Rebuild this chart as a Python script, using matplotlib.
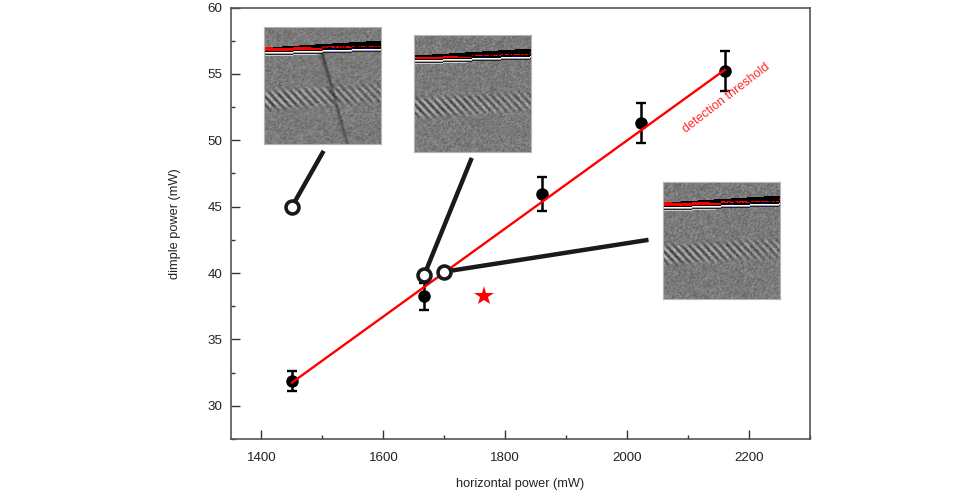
import numpy as np
import matplotlib
matplotlib.use('Agg')
import matplotlib.pyplot as plt
from matplotlib.ticker import MultipleLocator

plt.rcParams['font.family'] = ['Liberation Sans', 'DejaVu Sans']

horizontal = [1450, 1667, 1860, 2022, 2160]
dimple = [31.9, 38.25, 45.95, 51.3, 55.2]
errors = [0.75, 1.0, 1.25, 1.5, 1.5]
threshold_x = [1450, 2160]
threshold_y = [31.75, 55.3]
star_x = [1765]
star_y = [38.3]
open_x = [1450, 1667, 1700]
open_y = [45.0, 39.85, 40.1]
conn_end_x = [1502, 1745, 2035]
conn_end_y = [49.2, 48.67, 42.5]
inset_boxes_px = [(264, 27), (414, 35), (663, 182)]
INSET = 117

W, H = 976, 491
fig = plt.figure(figsize=(W / 100, H / 100), dpi=100, facecolor='white')
ax = fig.add_axes([231 / W, 1 - 439 / H, 579 / W, 431.5 / H])
ax.set_xlim(1350, 2300)
ax.set_ylim(27.5, 60)
ax.xaxis.set_major_locator(MultipleLocator(200))
ax.xaxis.set_minor_locator(MultipleLocator(100))
ax.yaxis.set_major_locator(MultipleLocator(5))
ax.yaxis.set_minor_locator(MultipleLocator(2.5))
ax.tick_params(which='major', direction='in', length=6.2, width=1.0, color='#333333',
               labelsize=9.6, labelcolor='#222222')
ax.tick_params(which='minor', direction='in', length=3.2, width=1.0, color='#333333')
ax.tick_params(axis='x', which='major', pad=9.3)
ax.tick_params(axis='y', which='major', pad=6)
for s in ax.spines.values():
    s.set_linewidth(1.2)
    s.set_color('#555555')
ax.set_xlabel('horizontal power (mW)', fontsize=9.2, color='#222222', labelpad=10)
ax.set_ylabel('dimple power (mW)', fontsize=9.2, color='#222222', labelpad=19)

ax.errorbar(horizontal, dimple, yerr=errors, fmt='o', color='black', ms=8,
            elinewidth=1.8, capsize=3.8, capthick=1.7, zorder=3)
ax.plot(threshold_x, threshold_y, color='#ff0000', lw=1.7, zorder=4)
for x0, y0, x1, y1 in zip(open_x, open_y, conn_end_x, conn_end_y):
    ax.plot([x0, x1], [y0, y1], color='#1a1a1a', lw=3.2, zorder=5, solid_capstyle='butt')
ax.plot(open_x, open_y, 'o', mfc='white', mec='#1a1a1a', mew=2.6, ms=9.3, zorder=6, ls='none')
ax.plot(star_x, star_y, '*', color='#ff0000', ms=15, mew=0, zorder=4, ls='none')
ax.text(2163, 53.2, 'detection threshold', color='#ff2a2a', fontsize=9,
        rotation=37.6, ha='center', va='center', rotation_mode='anchor')


def hash_noise(rows, cols, seed):
    return np.mod(np.sin(rows * 12.9898 + cols * 78.233 + seed) * 43758.5453, 1.0)


# Inset photographs, approximated as a pixel texture (not measured data)
red_strength = [1.0, 0.65, 1.0]
for idx, (px, py) in enumerate(inset_boxes_px):
    ia = fig.add_axes([px / W, 1 - (py + INSET) / H, INSET / W, INSET / H])
    ia.set_xticks([])
    ia.set_yticks([])
    for s in ia.spines.values():
        s.set_color('#b5b5b5')
        s.set_linewidth(0.8)
    n = INSET
    rows, cols = np.mgrid[0:n, 0:n]
    xx, yy = cols / (n - 1), rows / (n - 1)
    raw = hash_noise(rows, cols, idx * 3.1) - 0.5
    noise = (raw + np.roll(raw, 1, 0) + np.roll(raw, 1, 1)) / 3
    centre = 0.625 - 0.06 * xx
    envelope = np.exp(-((yy - centre) / 0.085) ** 4)
    fr = np.sin(2 * np.pi * (15 * xx - 14 * yy)) * envelope * (0.55 + 0.45 * (1 - xx))
    gray = 0.48 + 0.22 * noise + 0.22 * fr
    img = np.dstack([gray, gray, gray])
    for j in range(n):
        x = j / (n - 1)
        top = int((0.180 - 0.060 * x) * n)
        wh = int((0.222 - 0.034 * x) * n)
        img[top:wh, j] = (0, 0, 0)
        thick = (0.036 - 0.026 * x) * n * red_strength[idx]
        red_bot = wh - int(1 + 2 * x)
        red_top = red_bot - int(max(thick, 1))
        for i in range(red_top, red_bot):
            if x < 0.5 or hash_noise(np.float64(i), np.float64(j), idx) > 0.3:
                img[i, j] = (1, 0, 0)
        img[wh, j] = (1, 1, 1)
        img[wh + 1, j] = (0.65, 0.65, 0.65)
        img[wh + 2, j] = (0.15, 0.15, 0.15)
        if x < 0.45:
            img[wh + 3, j] = (0.8, 0.8, 0.8)
        if 0.55 < x < 0.62 or 0.73 < x < 0.77 or 0.84 < x < 0.93:
            img[wh - 1, j] = (0, 0, 0.6)
    if idx == 0:
        for i in range(int(0.23 * n), n):
            c = (0.49 + (i / n - 0.21) * 0.22 / 0.79) * (n - 1)
            for j in range(int(c) - 2, int(c) + 3):
                if 0 <= j < n:
                    img[i, j] *= 0.45 + 0.35 * min(abs(j - c) / 2, 1) + 0.2 * (i / n)
    ia.imshow(np.clip(img, 0, 1), interpolation='bilinear', aspect='auto')

fig.savefig('out.png', dpi=100)
